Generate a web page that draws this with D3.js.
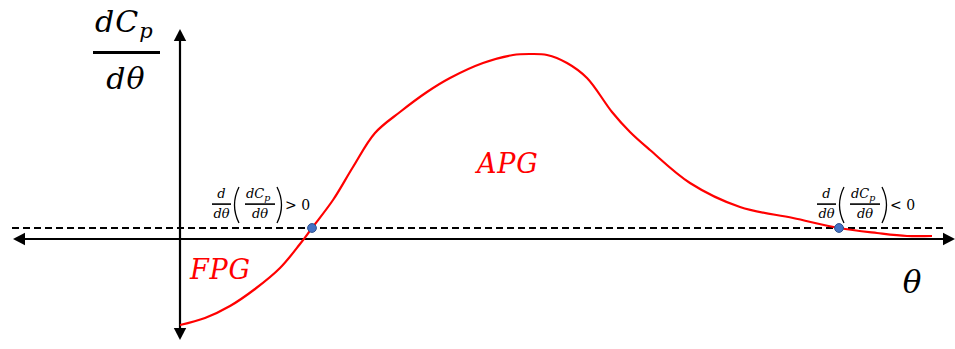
<!DOCTYPE html>
<html>
<head>
<meta charset="utf-8">
<script src="https://cdn.jsdelivr.net/npm/d3@7/dist/d3.min.js"></script>
<style>
  html, body { margin: 0; padding: 0; background: #fff; }
  svg { display: block; }
</style>
</head>
<body>
<svg id="chart" width="955" height="349"></svg>
<script>
// Pressure-gradient slope dCp/dθ against θ
const thetaValues = [0, 0.25, 0.50, 0.75, 1.00, 1.20, 1.32, 1.53, 1.73, 1.95, 2.20, 2.47, 2.70,
                     3.03, 3.33, 3.50, 3.67, 3.87, 4.07, 4.32, 4.50, 4.70, 5.10, 5.60, 6.13, 6.59, 6.97, 7.27, 7.52];
const slopeValues = [-0.86, -0.79, -0.67, -0.50, -0.29, -0.05, 0.11, 0.39, 0.72, 1.06, 1.27, 1.47, 1.61,
                     1.76, 1.84, 1.85, 1.84, 1.76, 1.61, 1.27, 1.07, 0.89, 0.56, 0.32, 0.21, 0.11, 0.06, 0.03, 0.03];
// Reference level (dashed) and the two points where the curve crosses it
const referenceLevel = 0.11;
const crossingTheta = [1.32, 6.59];
const crossingValue = [0.11, 0.11];
const crossingSign = [">", "<"];
// Region labels
const regionNames = ["FPG", "APG"];
const regionTheta = [0.10, 2.97];
const regionValue = [-0.40, 0.66];

const svg = d3.select("#chart");
const x = d3.scaleLinear().domain([-1.67, 7.75]).range([13, 955]);
const y = d3.scaleLinear().domain([-1.01, 2.10]).range([340, 29]);

const serif = "'DejaVu Serif', 'Liberation Serif', serif";
const black = "#000";
const red = "#ff0000";

// Dashed reference line
svg.append("line")
  .attr("x1", x(-1.68)).attr("x2", x(7.63))
  .attr("y1", y(referenceLevel)).attr("y2", y(referenceLevel))
  .attr("stroke", black).attr("stroke-width", 1.8)
  .attr("stroke-dasharray", "7,4");

// Horizontal θ axis with arrowheads at both ends
const ax0 = x(-1.67), ax1 = x(7.75), ay = y(0);
const aLen = 12, aHalf = 6.2;
svg.append("line")
  .attr("x1", ax0 + aLen - 1).attr("x2", ax1 - aLen + 1)
  .attr("y1", ay).attr("y2", ay)
  .attr("stroke", black).attr("stroke-width", 2.2);
svg.append("path")
  .attr("d", `M${ax0},${ay}L${ax0 + aLen},${ay - aHalf}L${ax0 + aLen},${ay + aHalf}Z`)
  .attr("fill", black);
svg.append("path")
  .attr("d", `M${ax1},${ay}L${ax1 - aLen},${ay - aHalf}L${ax1 - aLen},${ay + aHalf}Z`)
  .attr("fill", black);

// Vertical dCp/dθ axis with arrowheads at both ends
const vx = x(0), vy0 = y(2.10), vy1 = y(-1.01);
svg.append("line")
  .attr("x1", vx).attr("x2", vx)
  .attr("y1", vy0 + aLen - 1).attr("y2", vy1 - aLen + 1)
  .attr("stroke", black).attr("stroke-width", 2.2);
svg.append("path")
  .attr("d", `M${vx},${vy0}L${vx - aHalf},${vy0 + aLen}L${vx + aHalf},${vy0 + aLen}Z`)
  .attr("fill", black);
svg.append("path")
  .attr("d", `M${vx},${vy1}L${vx - aHalf},${vy1 - aLen}L${vx + aHalf},${vy1 - aLen}Z`)
  .attr("fill", black);

// Slope curve
const points = thetaValues.map((t, i) => [t, slopeValues[i]]);
const line = d3.line()
  .x(d => x(d[0])).y(d => y(d[1]))
  .curve(d3.curveCatmullRom.alpha(0.5));
svg.append("path")
  .datum(points)
  .attr("d", line)
  .attr("fill", "none")
  .attr("stroke", red).attr("stroke-width", 2.2);

// Crossing points
svg.selectAll("circle.cross")
  .data(crossingTheta)
  .join("circle")
  .attr("class", "cross")
  .attr("cx", d => x(d))
  .attr("cy", (d, i) => y(crossingValue[i]))
  .attr("r", 4.4)
  .attr("fill", "#4472c4")
  .attr("stroke", "#2f528f").attr("stroke-width", 1);

// Region labels
svg.selectAll("text.region")
  .data(regionNames)
  .join("text")
  .attr("class", "region")
  .attr("x", (d, i) => x(regionTheta[i]))
  .attr("y", (d, i) => y(regionValue[i]))
  .attr("font-family", serif).attr("font-style", "italic")
  .attr("font-size", 27).attr("letter-spacing", 0.8)
  .attr("fill", red)
  .text(d => d);

// Axis titles
const yTitle = svg.append("g");
const num = yTitle.append("text")
  .attr("x", 95).attr("y", 32)
  .attr("font-family", serif).attr("font-style", "italic")
  .attr("font-size", 30);
num.append("tspan").attr("letter-spacing", 1).text("dC");
num.append("tspan").attr("dy", 6).attr("font-size", 21).text("p");
yTitle.append("rect")
  .attr("x", 93).attr("y", 51).attr("width", 67).attr("height", 3)
  .attr("fill", black);
yTitle.append("text")
  .attr("x", 126).attr("y", 89)
  .attr("text-anchor", "middle")
  .attr("font-family", serif).attr("font-style", "italic")
  .attr("font-size", 30).attr("letter-spacing", 1)
  .text("dθ");

svg.append("text")
  .attr("x", 912).attr("y", 293)
  .attr("text-anchor", "middle")
  .attr("font-family", serif).attr("font-style", "italic")
  .attr("font-size", 31)
  .text("θ");

// Second-derivative annotations next to each crossing point
function annotate(x0, sign) {
  const g = svg.append("g").attr("transform", `translate(${x0},0)`);
  const fs = 13;
  const small = (tx, ty, str) => g.append("text")
    .attr("x", tx).attr("y", ty).attr("text-anchor", "middle")
    .attr("font-family", serif).attr("font-style", "italic")
    .attr("font-size", fs).text(str);
  // d / dθ
  small(9.5, 198, "d");
  g.append("rect").attr("x", 0).attr("y", 203.3).attr("width", 19).attr("height", 1.6).attr("fill", black);
  small(9.5, 218, "dθ");
  // parentheses
  g.append("path").attr("d", "M27,187 Q18,205 27,223").attr("fill", "none").attr("stroke", black).attr("stroke-width", 1.3);
  g.append("path").attr("d", "M65,187 Q74,205 65,223").attr("fill", "none").attr("stroke", black).attr("stroke-width", 1.3);
  // dCp / dθ
  const t = g.append("text").attr("x", 34).attr("y", 198)
    .attr("font-family", serif).attr("font-style", "italic").attr("font-size", fs);
  t.append("tspan").text("dC");
  t.append("tspan").attr("dy", 3).attr("font-size", 9.5).text("p");
  g.append("rect").attr("x", 33).attr("y", 203.3).attr("width", 30).attr("height", 1.6).attr("fill", black);
  small(48, 218, "dθ");
  // relation
  g.append("text").attr("x", 73).attr("y", 210)
    .attr("font-family", serif).attr("font-size", 14)
    .text(sign + " 0");
}
annotate(212, crossingSign[0]);
annotate(817, crossingSign[1]);
</script>
</body>
</html>
